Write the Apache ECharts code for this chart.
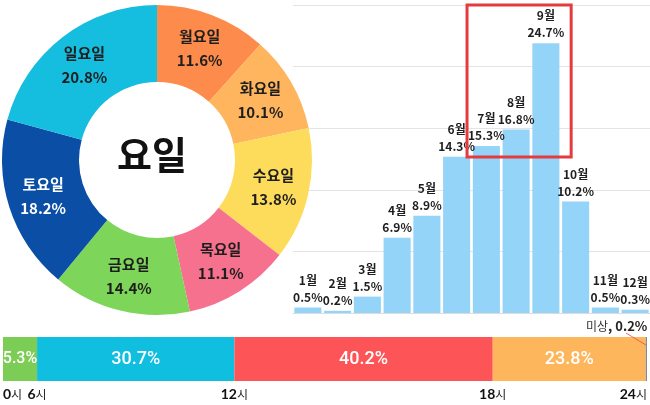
<!DOCTYPE html>
<html><head><meta charset="utf-8">
<script src="https://cdn.jsdelivr.net/npm/echarts@6/dist/echarts.min.js"></script>
<style>html,body{margin:0;padding:0;background:#fff}#c{width:650px;height:405px}</style>
</head><body><div id="c"></div>
<script>
// ---- data ----
const dayNames = ['월요일','화요일','수요일','목요일','금요일','토요일','일요일'];
const dayValues = [11.6, 10.1, 13.8, 11.1, 14.4, 18.2, 20.8];
const centerTitle = '요일';

const monthNames = ['1월','2월','3월','4월','5월','6월','7월','8월','9월','10월','11월','12월'];
const monthValues = [0.5, 0.2, 1.5, 6.9, 8.9, 14.3, 15.3, 16.8, 24.7, 10.2, 0.5, 0.3];
const highlightMonths = ['7월', '8월', '9월'];

const timeSlots = ['0~6시', '6~12시', '12~18시', '18~24시', '미상'];
const timeValues = [5.3, 30.7, 40.2, 23.8, 0.2];
const hourTicks = ['0시', '6시', '12시', '18시', '24시'];

// ---- styles ----
const dayColors = ['#fd8b4b', '#feb55e', '#fddb5b', '#f5718e', '#7dd559', '#0b4ea6', '#15bddf'];
const dayLabelColors = ['#1e1e1e', '#1e1e1e', '#1e1e1e', '#1e1e1e', '#1e1e1e', '#ffffff', '#1e1e1e'];
const timeColors = ['#7ccd55', '#10bee0', '#fd5457', '#fdb65b', '#8a8a8a'];
const KR = '"Noto Sans CJK KR", "Noto Sans", sans-serif';
const NUM = 'Roboto, "Noto Sans", sans-serif';

const timeTotal = timeValues.reduce((a, b) => a + b, 0);
// tick positions at slot boundaries (last one at the end of the bar)
const tickPositions = [0];
for (let i = 0; i < hourTicks.length - 2; i++) tickPositions.push(+(tickPositions[i] + timeValues[i]).toFixed(2));
tickPositions.push(+timeTotal.toFixed(2));

const chart = echarts.init(document.getElementById('c'), null, { renderer: 'canvas' });

const timeSeries = timeSlots.map((name, i) => {
  const isUnknown = i === timeSlots.length - 1;
  return {
    type: 'bar', name, stack: 'time', xAxisIndex: 1, yAxisIndex: 1,
    barWidth: 44,
    data: [timeValues[i]],
    itemStyle: { color: timeColors[i] },
    label: isUnknown ? {
      show: true, position: 'top', align: 'right', distance: 4, offset: [1, 0],
      formatter: () => '{a|' + name + '}{b|, ' + timeValues[i] + '%}',
      rich: {
        a: { fontFamily: KR, fontSize: 12, color: '#333' },
        b: { fontFamily: KR, fontSize: 13, fontWeight: 'bold', color: '#222' }
      }
    } : {
      show: true, position: 'inside', color: '#fff',
      fontFamily: NUM, fontWeight: 500, fontSize: timeValues[i] < 10 ? 16 : 18,
      formatter: (p) => p.value + '%'
    }
  };
});

const centerText = { type: 'text', left: 157 - 40, top: 160 - 24, style: { text: centerTitle, width: 80, align: 'center',
  font: 'bold 38px ' + KR, fill: '#111' } };

chart.setOption({
  animation: false,
  textStyle: { fontFamily: KR },
  grid: [
    { left: 293, right: 0, top: 5, bottom: 92 },
    { left: 0, right: 1, top: 337, height: 44 }
  ],
  xAxis: [
    { gridIndex: 0, type: 'category', data: monthNames,
      axisLine: { show: true, lineStyle: { color: '#dcdcdc' } },
      axisTick: { show: false }, axisLabel: { show: false } },
    { gridIndex: 1, type: 'value', min: 0, max: +timeTotal.toFixed(2),
      splitLine: { show: false }, axisLine: { show: false }, axisTick: { show: false },
      axisLabel: {
        show: true, customValues: tickPositions, margin: 6,
        alignMinLabel: 'left', alignMaxLabel: 'right', hideOverlap: false, showMinLabel: true, showMaxLabel: true,
        formatter: (v) => {
          let idx = 0, best = Infinity;
          tickPositions.forEach((t, i) => { if (Math.abs(t - v) < best) { best = Math.abs(t - v); idx = i; } });
          const t = hourTicks[idx];
          return '{n|' + t.replace('시', '') + '}{s|시}';
        },
        rich: {
          n: { fontFamily: '"Lato", "Noto Sans", sans-serif', fontSize: 14, fontWeight: 'bold', color: '#111' },
          s: { fontFamily: KR, fontSize: 12, color: '#222' }
        }
      } }
  ],
  yAxis: [
    { gridIndex: 0, type: 'value', min: 0, max: 28.2, interval: 5.64,
      axisLine: { show: false }, axisTick: { show: false }, axisLabel: { show: false },
      splitLine: { lineStyle: { color: '#e4e4e4', width: 1 } } },
    { gridIndex: 1, type: 'category', data: ['시간대'], show: false }
  ],
  series: [
    {
      type: 'pie', center: [157, 160], radius: [78, 155], startAngle: 90, clockwise: true,
      silent: true,
      label: {
        show: true, position: 'inside', fontSize: 15, fontWeight: 'bold', lineHeight: 24,
        fontFamily: KR, formatter: (p) => p.name + '\n' + p.value.toFixed(1) + '%'
      },
      labelLine: { show: false },
      data: dayNames.map((n, i) => ({
        name: n, value: dayValues[i],
        itemStyle: { color: dayColors[i] },
        label: { color: dayLabelColors[i] }
      }))
    },
    {
      type: 'bar', xAxisIndex: 0, yAxisIndex: 0, data: monthValues,
      barCategoryGap: '9%',
      itemStyle: { color: '#95d4f9' },
      label: {
        show: true, position: 'top', distance: 2, color: '#1e1e1e',
        fontFamily: KR, fontSize: 12, fontWeight: 'bold', lineHeight: 17,
        formatter: (p) => p.name + '\n' + p.value + '%'
      }
    },
    ...timeSeries
  ],
  graphic: [centerText]
});

// red highlight box around highlighted months
const first = highlightMonths[0], last = highlightMonths[highlightMonths.length - 1];
const pFirst = chart.convertToPixel({ xAxisIndex: 0 }, first);
const pSecond = chart.convertToPixel({ xAxisIndex: 0 }, monthNames[monthNames.indexOf(first) + 1]);
const pLast = chart.convertToPixel({ xAxisIndex: 0 }, last);
const band = pSecond - pFirst;
const minVal = Math.min(...highlightMonths.map(m => monthValues[monthNames.indexOf(m)]));
const yTop = chart.convertToPixel({ yAxisIndex: 0 }, 28.2);
const yBottom = chart.convertToPixel({ yAxisIndex: 0 }, minVal) + 11;
const x0 = pFirst - band * 0.65, x1 = pLast + band * 0.85;

// leader line from the "미상" label to its tiny segment
const segEnd = chart.convertToPixel({ xAxisIndex: 1 }, timeTotal);
const barTop = 337;
chart.setOption({
  graphic: [
    centerText,
    { type: 'rect', shape: { x: x0, y: yTop, width: x1 - x0, height: yBottom - yTop },
      style: { fill: 'none', stroke: '#e53b3f', lineWidth: 3 }, z: 100 },
    { type: 'line', shape: { x1: segEnd - 21, y1: barTop - 4, x2: segEnd - 1, y2: barTop + 8 },
      style: { stroke: '#e5474b', lineWidth: 0.8 }, z: 100 }
  ]
});
</script>
</body></html>
